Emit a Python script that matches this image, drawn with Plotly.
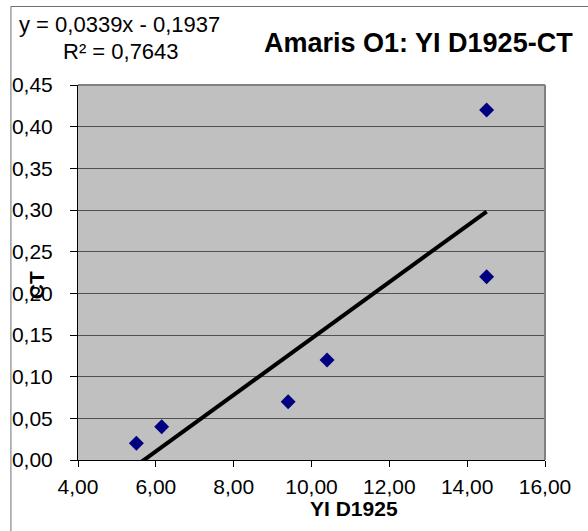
import numpy as np
import plotly.graph_objects as go

# Data
yi_d1925 = [5.50, 6.15, 9.40, 10.40, 14.50, 14.50]
ct = [0.02, 0.04, 0.07, 0.12, 0.42, 0.22]

title_text = "Amaris O1: YI D1925-CT"
x_title = "YI D1925"
y_title = "CT"
eq_text = "y = 0,0339x - 0,1937"
r2_text = "R² = 0,7643"

slope, intercept = np.polyfit(yi_d1925, ct, 1)
tx = [min(yi_d1925), max(yi_d1925)]
ty = [slope * v + intercept for v in tx]

W, H = 588, 531
L, R, T, B = 75, 43, 85, 71
pw, ph = W - L - R, H - T - B

def px(xp):
    return (xp - L) / pw

def py(yp):
    return (H - B - yp) / ph

font = "Liberation Sans, Arial, sans-serif"

fig = go.Figure()
fig.add_trace(go.Scatter(
    x=tx, y=ty, mode="lines",
    line=dict(color="black", width=4),
    hoverinfo="skip", showlegend=False,
))
fig.add_trace(go.Scatter(
    x=yi_d1925, y=ct, mode="markers",
    marker=dict(symbol="diamond", size=11.5, color="#000080",
                line=dict(width=0)),
    showlegend=False,
))

fig.update_layout(
    width=W, height=H,
    margin=dict(l=L, r=R, t=T, b=B),
    paper_bgcolor="white",
    plot_bgcolor="#C0C0C0",
    separators=", ",
    font=dict(family=font, size=21, color="black"),
    showlegend=False,
)
fig.update_xaxes(
    range=[4, 16], dtick=2, tick0=4, tickformat=".2f",
    showgrid=False, zeroline=False,
    showline=True, linecolor="black", linewidth=1,
    ticks="outside", ticklen=6, tickcolor="black",
    tickfont=dict(size=21, family=font),
    ticklabelstandoff=2,
)
fig.update_yaxes(
    range=[0, 0.45], dtick=0.05, tick0=0, tickformat=".2f",
    showgrid=True, gridcolor="#505050", gridwidth=1,
    zeroline=False,
    showline=True, linecolor="black", linewidth=1,
    ticks="outside", ticklen=7, tickcolor="black",
    tickfont=dict(size=21, family=font),
    ticklabelstandoff=13,
)

shapes = [
    # top and right plot border (gray)
    dict(type="line", xref="paper", yref="paper", x0=0, x1=1, y0=1, y1=1,
         line=dict(color="#808080", width=2)),
    dict(type="line", xref="paper", yref="paper", x0=1, x1=1, y0=0, y1=1,
         line=dict(color="#808080", width=2)),
    # outer chart border (left and top)
    dict(type="line", xref="paper", yref="paper", x0=px(7.5), x1=px(7.5),
         y0=py(6.5), y1=py(H + 5), line=dict(color="#707070", width=1)),
    dict(type="line", xref="paper", yref="paper", x0=px(7.5), x1=px(W + 5),
         y0=py(6.5), y1=py(6.5), line=dict(color="#707070", width=1)),
]
fig.update_layout(shapes=shapes)

annotations = [
    dict(text="<b>" + title_text + "</b>", xref="paper", yref="paper",
         x=px(418), y=py(43), xanchor="center", yanchor="middle",
         showarrow=False, font=dict(size=27, family=font, color="black")),
    dict(text=eq_text, xref="paper", yref="paper",
         x=px(116.5), y=py(38.5), xanchor="center", yanchor="bottom",
         borderpad=0,
         showarrow=False, font=dict(size=22, family=font, color="black")),
    dict(text=r2_text, xref="paper", yref="paper",
         x=px(118), y=py(38.5), xanchor="center", yanchor="top",
         borderpad=0,
         showarrow=False, font=dict(size=22, family=font, color="black")),
    dict(text="<b>" + x_title + "</b>", xref="paper", yref="paper",
         x=px(353), y=py(508), xanchor="center", yanchor="middle",
         showarrow=False, font=dict(size=21, family=font, color="black")),
    dict(text="<b>" + y_title + "</b>", xref="paper", yref="paper",
         x=px(33), y=py(285), xanchor="center", yanchor="middle",
         textangle=-90,
         showarrow=False, font=dict(size=21, family=font, color="black")),
]
fig.update_layout(annotations=annotations)

fig.write_html("out.html", config={"displayModeBar": False},
               post_script="document.body.style.margin='0';")
